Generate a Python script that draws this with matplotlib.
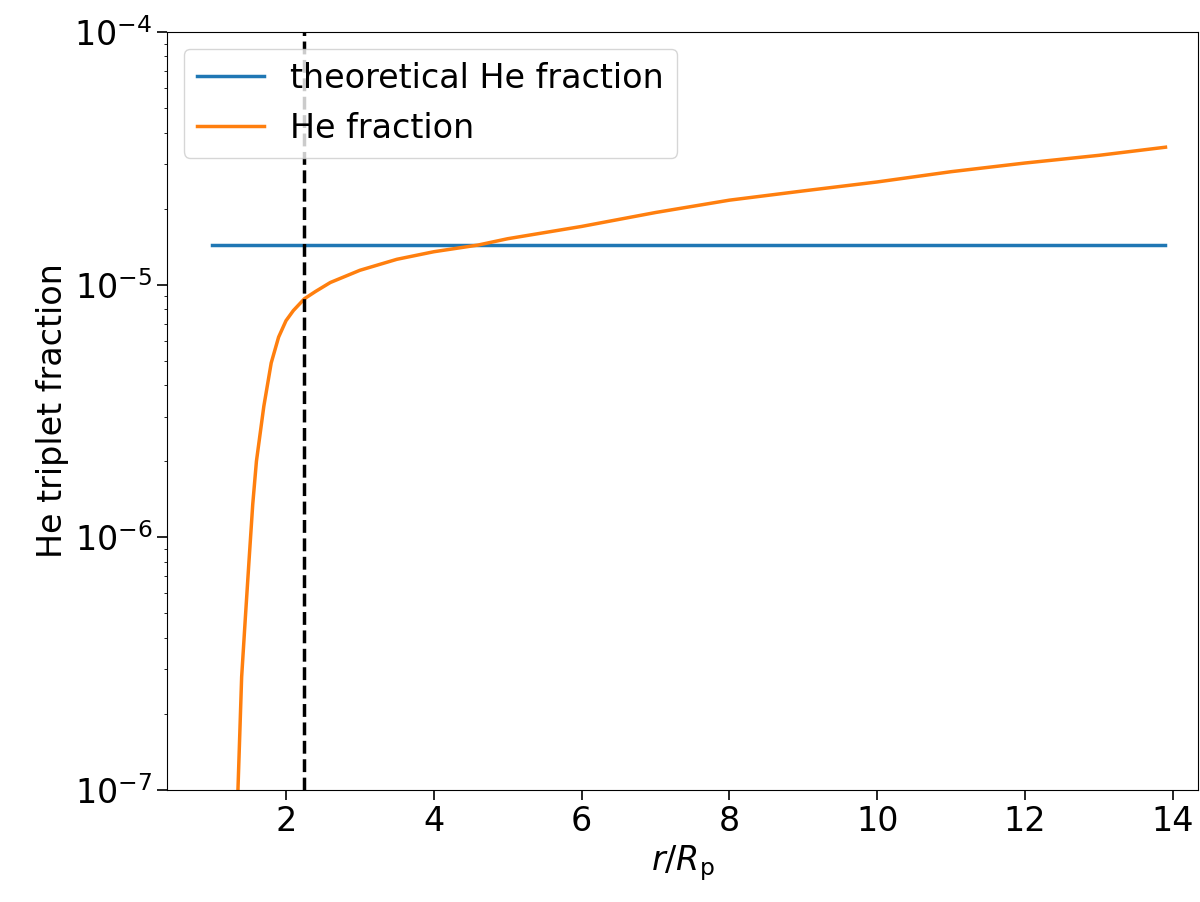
import matplotlib
matplotlib.use("Agg")
import matplotlib.pyplot as plt

r_theory = [1.0, 13.9]
f_theory = [1.435e-5, 1.435e-5]
r = [1.30, 1.35, 1.40, 1.45, 1.50, 1.55, 1.60, 1.70, 1.80, 1.90, 2.0, 2.1, 2.25, 2.4, 2.6, 3.0, 3.5, 4.0, 4.6, 5.0, 6.0, 7.0, 8.0, 9.0, 10.0, 11.0, 12.0, 13.0, 13.9]
f = [3e-8, 1e-7, 2.8e-7, 4.8e-7, 8.1e-7, 1.35e-6, 2.0e-6, 3.3e-6, 4.9e-6, 6.2e-6, 7.2e-6, 7.9e-6, 8.8e-6, 9.4e-6, 1.02e-5, 1.14e-5, 1.26e-5, 1.35e-5, 1.435e-5, 1.52e-5, 1.7e-5, 1.93e-5, 2.16e-5, 2.35e-5, 2.55e-5, 2.8e-5, 3.03e-5, 3.25e-5, 3.5e-5]
r_sonic = 2.25

fig = plt.figure(figsize=(12, 9.02), dpi=100)
ax = fig.add_axes([167/1200, 1-790/902, (1198-167)/1200, (790-32)/902])
ax.plot(r_theory, f_theory, color='#1f77b4', lw=2.5, label='theoretical He fraction')
ax.plot(r, f, color='#ff7f0e', lw=2.5, label='He fraction')
ax.axvline(r_sonic, color='k', ls='--', lw=2.5)
ax.set_yscale('log')
ax.set_ylim(1e-7, 1e-4)
ax.set_xlim(0.39, 14.34)
ax.set_xticks([2, 4, 6, 8, 10, 12, 14])
ax.tick_params(labelsize=24, length=7, width=1.2)
ax.set_xlabel(r'$r/R_\mathrm{p}$', fontsize=24)
ax.set_ylabel('He triplet fraction', fontsize=24)
ax.legend(loc='upper left', fontsize=24)
fig.savefig('out.png', dpi=100)
